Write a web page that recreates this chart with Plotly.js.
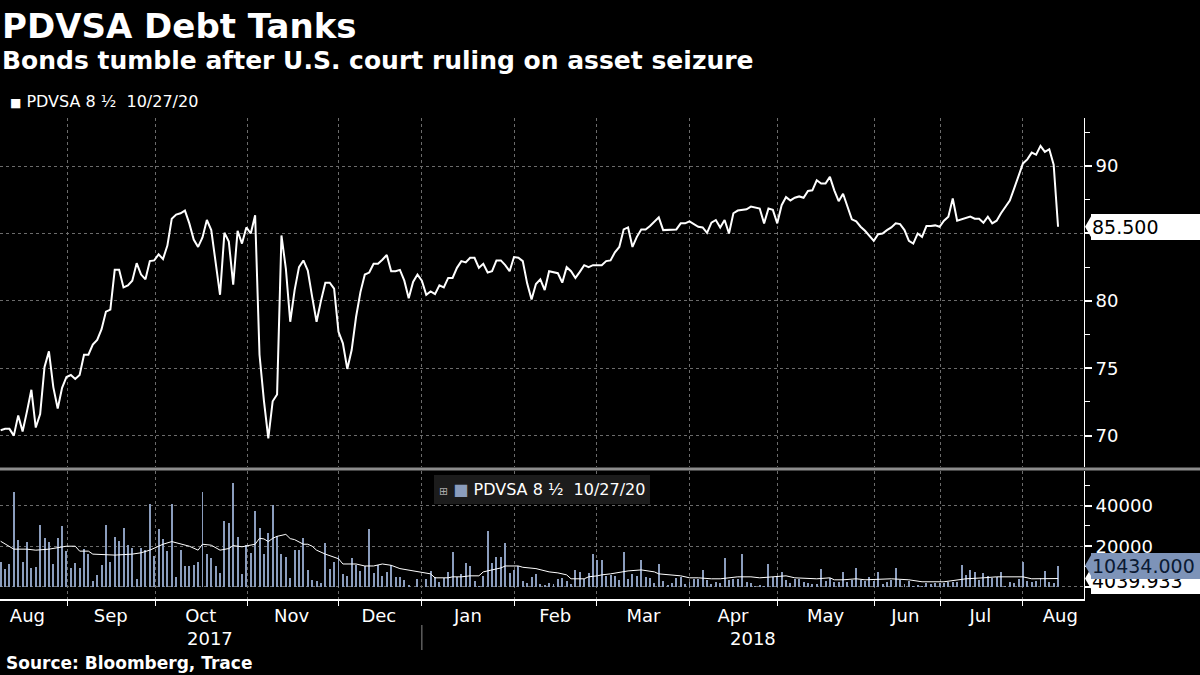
<!DOCTYPE html>
<html>
<head>
<meta charset="utf-8">
<script src="https://cdn.plot.ly/plotly-3.0.1.min.js"></script>
<style>
html, body { margin: 0; padding: 0; background: #000; }
#chart { width: 1200px; height: 675px; }
</style>
</head>
<body>
<div id="chart"></div>
<script>
// bid price, one value per trading day (Aug 2017 - Aug 2018)
var price = [
  70.4, 70.5, 70.5, 70.0, 71.5, 70.3, 71.8, 73.4, 70.6, 71.6,
  75.1, 76.25, 73.6, 72.0, 73.55, 74.35, 74.5, 74.2, 74.5, 76.0,
  76.0, 76.75, 77.1, 77.9, 79.2, 79.35, 82.3, 82.3, 81.0, 81.15,
  81.5, 82.8, 81.95, 81.6, 82.95, 83.0, 83.45, 83.1, 84.1, 86.1,
  86.4, 86.5, 86.7, 85.75, 84.55, 84.0, 84.7, 86.0, 85.25, 83.0,
  80.45, 85.05, 84.4, 81.2, 85.2, 84.25, 85.45, 85.0, 86.35, 76.0,
  72.6, 69.8, 72.55, 73.05, 84.85, 82.4, 78.45, 80.8, 82.5, 83.0,
  82.25, 80.3, 78.45, 80.0, 81.35, 81.35, 80.9, 77.7, 76.85, 74.95,
  76.35, 78.8, 80.65, 81.95, 82.1, 82.75, 82.75, 83.05, 83.4, 82.2,
  82.2, 82.3, 81.5, 80.2, 81.4, 81.95, 81.5, 80.45, 80.7, 80.5,
  81.15, 81.0, 81.7, 81.7, 82.45, 82.95, 82.85, 83.2, 83.2, 82.45,
  82.75, 82.1, 82.2, 83.0, 83.0, 82.65, 82.2, 83.25, 83.2, 82.95,
  81.3, 80.1, 81.25, 81.6, 80.8, 82.2, 82.1, 82.05, 81.35, 82.5,
  82.2, 81.7, 82.15, 82.65, 82.5, 82.65, 82.65, 82.65, 82.95, 83.0,
  83.6, 84.0, 85.3, 85.45, 84.0, 84.75, 85.3, 85.3, 85.55, 85.9,
  86.2, 85.25, 85.25, 85.25, 85.3, 85.75, 85.75, 85.9, 85.7, 85.5,
  85.45, 85.05, 85.8, 86.0, 85.45, 86.0, 85.0, 86.5, 86.7, 86.75,
  86.8, 87.0, 86.95, 86.85, 85.75, 86.85, 86.75, 85.75, 87.1, 87.7,
  87.45, 87.65, 87.75, 87.65, 88.15, 88.2, 88.95, 88.7, 88.7, 89.2,
  88.2, 87.4, 87.95, 87.0, 86.05, 85.9, 85.5, 85.2, 84.8, 84.45,
  84.95, 85.0, 85.25, 85.45, 85.75, 85.7, 85.25, 84.45, 84.25, 85.0,
  84.75, 85.55, 85.55, 85.6, 85.5, 85.95, 86.25, 87.6, 85.95, 86.05,
  86.15, 86.25, 86.1, 86.1, 85.8, 86.25, 85.75, 85.95, 86.5, 87.0,
  87.45, 88.35, 89.2, 90.2, 90.5, 91.0, 90.85, 91.5, 91.05, 91.25,
  90.1, 85.5
];

// traded volume, same days
var volume = [
  12360, 8780, 11220, 46830, 22930, 12360, 21950, 9430, 9920, 30240,
  23900, 21950, 11220, 23900, 29760, 17560, 9430, 11700, 9430, 18540,
  16100, 2600, 5850, 10730, 30240, 12200, 24390, 22440, 28780, 20490,
  19020, 3900, 19020, 18050, 40980, 15120, 28290, 23410, 17560, 40980,
  4880, 18050, 10240, 10240, 10730, 12200, 46830, 16100, 14150, 10240,
  6830, 32680, 31710, 51220, 24390, 6340, 20490, 16590, 37560, 28780,
  16100, 26340, 40490, 24880, 16100, 14630, 4390, 18050, 18050, 23900,
  8290, 3410, 2930, 1950, 21460, 8780, 12200, 15120, 6340, 5370,
  14150, 10730, 7800, 10240, 28290, 6830, 10730, 5370, 7320, 10730,
  4880, 4880, 3410, 975, 0, 3900, 0, 3900, 7800, 4880,
  2440, 4390, 7320, 17070, 4880, 6340, 11700, 10240, 2930, 490,
  5370, 27320, 11700, 14630, 14630, 21460, 6830, 8290, 10240, 2930,
  1950, 4880, 6340, 1460, 975, 1950, 1460, 3900, 4390, 2930,
  1460, 8290, 7320, 3900, 6830, 16100, 13170, 13170, 5370, 5850,
  5370, 3410, 17070, 3900, 6340, 5370, 13170, 4880, 4390, 1950,
  11220, 2930, 975, 1950, 4390, 4880, 1460, 2440, 3900, 3900,
  8290, 3410, 1460, 2440, 1950, 14150, 3410, 3900, 3900, 16100,
  2440, 1950, 490, 975, 490, 11220, 4880, 5370, 7320, 3410,
  1950, 3900, 3900, 2440, 1950, 1460, 1460, 8780, 2930, 4390,
  2440, 2440, 7320, 2440, 3410, 9270, 3410, 2930, 4880, 2930,
  7320, 1460, 2440, 3410, 9270, 3410, 1460, 2930, 490, 975,
  490, 1950, 1460, 1950, 1950, 1950, 2440, 2440, 2440, 10730,
  5850, 8290, 7320, 3410, 6830, 5370, 4390, 4880, 7320, 490,
  2440, 1950, 3900, 12200, 2930, 2440, 2930, 4390, 7800, 2440,
  1950, 10434
];

// volume moving average (turning points)
var maDay = [0, 3, 6, 8, 11, 15, 17, 18, 20, 21, 26, 30, 32, 34, 36, 37, 39, 41, 43, 45,
  46, 48, 50, 52, 53, 55, 57, 58, 59, 60, 61, 62, 63, 65, 66, 67, 69, 70, 71, 72,
  74, 75, 77, 78, 81, 83, 85, 87, 89, 91, 93, 96, 98, 99, 102, 103, 105, 107, 109, 110,
  112, 114, 115, 118, 119, 122, 125, 127, 129, 130, 133, 134, 136, 137, 139, 142, 143, 146, 149, 150,
  153, 155, 157, 159, 162, 164, 168, 171, 173, 176, 179, 181, 184, 186, 189, 190, 192, 195, 197, 203,
  207, 210, 215, 218, 220, 224, 227, 233, 235, 241];
var maVal = [22440, 18540, 18540, 18050, 18540, 20000, 20000, 17560, 17560, 16100, 15610, 16100, 16750, 18050, 20000, 20975, 22280, 20975, 20000, 18050,
  20975, 20500, 18050, 18860, 20325, 19700, 20325, 20975, 23900, 23600, 22280, 23900, 24880, 25850, 23740, 23250, 20975, 20975, 20000, 18050,
  16100, 15450, 13820, 11220, 11220, 10240, 10240, 11220, 10570, 8940, 8290, 7320, 6340, 4390, 4390, 4880, 4880, 5370, 5370, 7320,
  8290, 9270, 10240, 10240, 9600, 8940, 7320, 6830, 5850, 3900, 3900, 4880, 5370, 5850, 6340, 7320, 7800, 8290, 7320, 6340,
  5850, 5370, 4390, 4390, 3900, 3900, 4880, 4880, 4390, 4880, 5370, 4390, 3900, 3900, 4390, 3410, 3410, 3900, 3410, 3900,
  3410, 2440, 2440, 3410, 3900, 4390, 4880, 4880, 3900, 4039.933];

// month labels (middle of month) and month boundaries, in trading-day units
var monthNames = ['Aug', 'Sep', 'Oct', 'Nov', 'Dec', 'Jan', 'Feb', 'Mar', 'Apr', 'May', 'Jun', 'Jul', 'Aug'];
var monthMid = [6.1, 25.1, 45.6, 66.3, 86.2, 106.5, 126.4, 146.5, 166.9, 188.0, 206.2, 223.3, 241.5];
var monthStart = [15.3, 35.2, 56.2, 77.1, 96.0, 117.0, 135.9, 157.1, 177.1, 199.1, 214.1, 232.9];
var yearNames = ['2017', '2018'];
var priceTicks = [70, 75, 80, 85, 90];
var priceTickText = ['70', '75', '80', '', '90'];   // 85 sits under the last-price box
var volTicks = [0, 20000, 40000];
var volTickText = ['', '20000', '40000'];           // 0 sits under the average box
var bondName = 'PDVSA 8 ½  10/27/20';

var W = 1200, H = 675;
function px(x) { return x / W; }
function py(y) { return (H - y) / H; }

var days = price.map(function (v, i) { return i; });
var lastPrice = price[price.length - 1];
var lastVol = volume[volume.length - 1];
var lastMA = maVal[maVal.length - 1];

var barBlue = '#8b9dbd';
var gridCol = '#6b6b6b';
var font = 'DejaVu Sans, Verdana, sans-serif';
var xRange = [-0.15, 246.8];
var plotRight = px(1083.5);

var traces = [
  { x: days, y: price, type: 'scatter', mode: 'lines', xaxis: 'x', yaxis: 'y',
    line: { color: '#ffffff', width: 2 }, hoverinfo: 'skip' },
  { x: days, y: volume, type: 'bar', xaxis: 'x2', yaxis: 'y2', width: 0.45,
    marker: { color: barBlue, line: { width: 0 } }, hoverinfo: 'skip' },
  { x: maDay, y: maVal, type: 'scatter', mode: 'lines', xaxis: 'x2', yaxis: 'y2',
    line: { color: '#ffffff', width: 1 }, hoverinfo: 'skip' }
];

// pointer triangle for a value label
function pointer(yref, v, half, color) {
  return { type: 'path', xref: 'paper', yref: yref, layer: 'above',
    path: 'M ' + px(1085) + ',' + v + ' L ' + px(1092) + ',' + (v + half) +
          ' L ' + px(1092) + ',' + (v - half) + ' Z',
    fillcolor: color, line: { width: 0 } };
}
function valueLabel(yref, v, text, bg, fg, shift) {
  return { xref: 'paper', x: px(1091), xanchor: 'left', yref: yref, y: v, yanchor: 'middle',
    yshift: shift || 0,
    text: text, showarrow: false, bgcolor: bg, width: 107, height: 24, align: 'left',
    borderpad: 1, borderwidth: 0, font: { family: font, size: 19, color: fg } };
}

var volScale = 40.5 / 20000;
var layout = {
  width: W, height: H,
  paper_bgcolor: '#000', plot_bgcolor: '#000',
  margin: { l: 0, r: 0, t: 0, b: 0 },
  showlegend: false,
  bargap: 0,
  font: { family: font, color: '#ffffff', size: 18 },
  xaxis: {
    domain: [0, plotRight], range: xRange, anchor: 'y',
    tickmode: 'array', tickvals: [], showticklabels: false, showgrid: false, zeroline: false,
    minor: { tickmode: 'array', tickvals: monthStart, ticks: '', showgrid: true,
      gridcolor: gridCol, griddash: 'dot', gridwidth: 1 }
  },
  xaxis2: {
    domain: [0, plotRight], range: xRange, anchor: 'y2',
    tickmode: 'array', tickvals: monthMid, ticktext: monthNames, ticks: '',
    showgrid: false, zeroline: false, showline: true, linecolor: '#ffffff', linewidth: 1.5,
    tickfont: { size: 18, color: '#ffffff' },
    minor: { tickmode: 'array', tickvals: monthStart, ticks: 'outside', ticklen: 5,
      tickcolor: '#ffffff', tickwidth: 1, showgrid: true, gridcolor: gridCol, griddash: 'dot', gridwidth: 1 }
  },
  yaxis: {
    domain: [py(467), py(118)], range: [67.67, 93.57], side: 'right', anchor: 'x',
    tickmode: 'array', tickvals: priceTicks, ticktext: priceTickText, ticks: 'outside', ticklen: 7, tickwidth: 2,
    tickcolor: '#ffffff', showline: true, linecolor: '#ffffff', linewidth: 1.5,
    showgrid: true, gridcolor: gridCol, griddash: 'dot', gridwidth: 1, zeroline: false,
    tickfont: { size: 18, color: '#ffffff' },
    minor: { tickmode: 'linear', tick0: 0, dtick: 2.5, ticks: 'outside', ticklen: 5,
      tickcolor: '#ffffff', tickwidth: 1, showgrid: false }
  },
  yaxis2: {
    domain: [py(599), py(471)], range: [-6070, 57140], side: 'right', anchor: 'x2',
    tickmode: 'array', tickvals: volTicks, ticktext: volTickText, ticks: 'outside', ticklen: 7, tickwidth: 2,
    tickcolor: '#ffffff', showline: true, linecolor: '#ffffff', linewidth: 1.5,
    showgrid: true, gridcolor: gridCol, griddash: 'dot', gridwidth: 1, zeroline: false,
    tickfont: { size: 18, color: '#ffffff' },
    minor: { tickmode: 'linear', tick0: 0, dtick: 10000, ticks: 'outside', ticklen: 5,
      tickcolor: '#ffffff', tickwidth: 1, showgrid: false }
  },
  shapes: [
    { type: 'line', xref: 'paper', yref: 'paper', x0: 0, x1: 1, y0: py(469), y1: py(469),
      line: { color: '#8c8c8c', width: 3 } },
    { type: 'line', xref: 'x2', yref: 'paper', x0: monthStart[4], x1: monthStart[4], y0: py(650), y1: py(625),
      line: { color: '#8a8a8a', width: 1 } },
    pointer('y', lastPrice, 12 / 13.46, '#ffffff'),
    pointer('y2', lastMA, 12 / volScale, '#ffffff'),
    pointer('y2', lastVol, 12 / volScale, '#7d93b8')
  ],
  annotations: [
    { xref: 'paper', yref: 'paper', x: 0, y: py(26), xanchor: 'left', yanchor: 'middle', showarrow: false,
      text: '<b>PDVSA Debt Tanks</b>', font: { family: font, size: 34, color: '#ffffff' } },
    { xref: 'paper', yref: 'paper', x: 0, y: py(61), xanchor: 'left', yanchor: 'middle', showarrow: false,
      text: '<b>Bonds tumble after U.S. court ruling on asset seizure</b>', font: { family: font, size: 25, color: '#ffffff' } },
    { xref: 'paper', yref: 'paper', x: px(8), y: py(101), xanchor: 'left', yanchor: 'middle', showarrow: false,
      text: '<span style="font-size:12px">■</span> ' + bondName, font: { family: font, size: 16, color: '#ffffff' } },
    { xref: 'paper', yref: 'paper', x: px(542), y: py(489), xanchor: 'center', yanchor: 'middle', showarrow: false,
      bgcolor: '#1c1c1c', borderpad: 5, borderwidth: 0,
      text: '<span style="font-size:11px;fill:#aaaaaa">⊞</span> <span style="fill:' + barBlue + '">■</span> ' + bondName,
      font: { family: font, size: 16, color: '#ffffff' } },
    { xref: 'paper', yref: 'paper', x: px(210), y: py(638), xanchor: 'center', yanchor: 'middle', showarrow: false,
      text: yearNames[0], font: { family: font, size: 18, color: '#ffffff' } },
    { xref: 'paper', yref: 'paper', x: px(753), y: py(638), xanchor: 'center', yanchor: 'middle', showarrow: false,
      text: yearNames[1], font: { family: font, size: 18, color: '#ffffff' } },
    { xref: 'paper', yref: 'paper', x: px(4), y: py(663), xanchor: 'left', yanchor: 'middle', showarrow: false,
      text: '<b>Source: Bloomberg, Trace</b>', font: { family: font, size: 17, color: '#ffffff' } },
    valueLabel('y', lastPrice, lastPrice.toFixed(3), '#ffffff', '#000000'),
    valueLabel('y2', lastMA, lastMA.toFixed(3), '#ffffff', '#000000', -2),
    valueLabel('y2', lastVol, lastVol.toFixed(3), '#7d93b8', '#0b1a33')
  ]
};

Plotly.newPlot('chart', traces, layout, { staticPlot: true, displayModeBar: false });
</script>
</body>
</html>
